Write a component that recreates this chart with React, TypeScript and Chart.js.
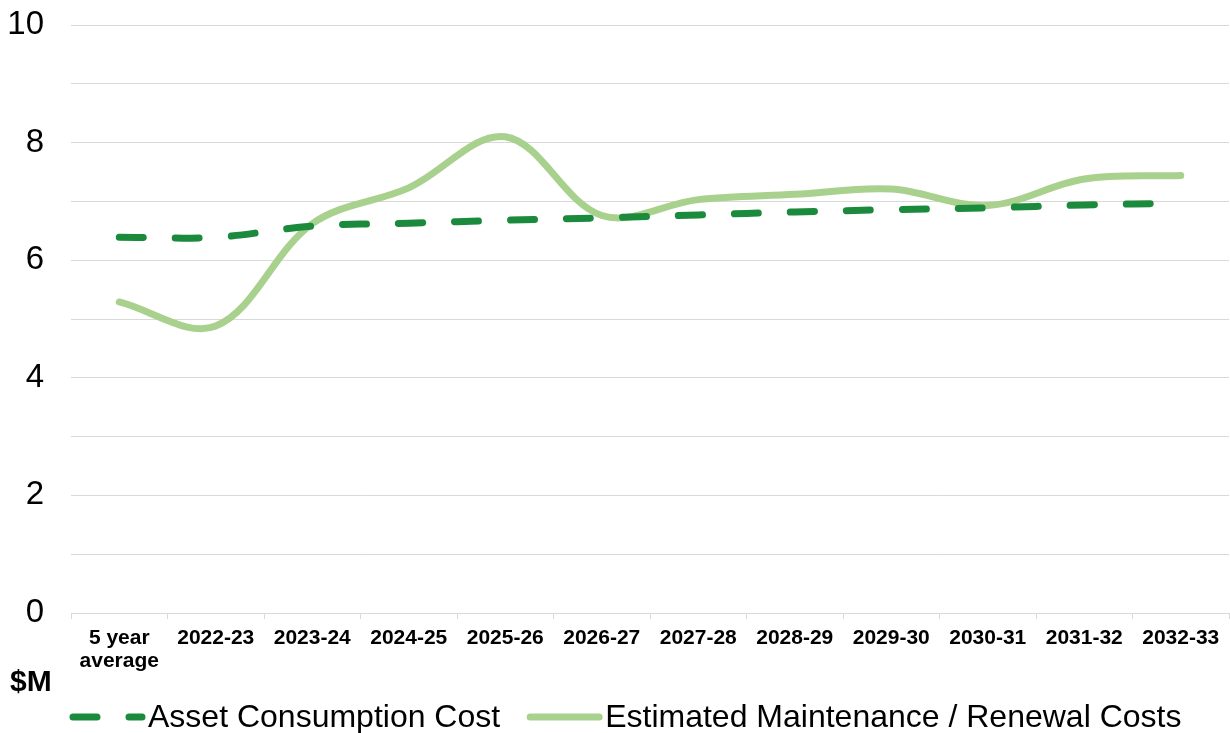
import React, { useEffect, useRef } from 'react';
import { Chart, registerables } from 'chart.js';

Chart.register(...registerables);

const categories: (string | string[])[] = [
  ['5 year', 'average'],
  '2022-23',
  '2023-24',
  '2024-25',
  '2025-26',
  '2026-27',
  '2027-28',
  '2028-29',
  '2029-30',
  '2030-31',
  '2031-32',
  '2032-33',
];

const assetConsumptionCost = [6.39, 6.39, 6.58, 6.63, 6.68, 6.72, 6.77, 6.82, 6.86, 6.89, 6.94, 6.97];
const maintenanceRenewalCosts = [5.29, 4.88, 6.62, 7.23, 8.1, 6.76, 7.03, 7.12, 7.21, 6.93, 7.38, 7.44];

const seriesNames = ['Asset Consumption Cost', 'Estimated Maintenance / Renewal Costs'];
const yAxisUnit = '$M';
const yMin = 0;
const yMax = 10;
const yLabelStep = 2;

const FONT = '"Liberation Sans", Arial, Helvetica, sans-serif';

const overlayPlugin = {
  id: 'overlay',
  afterDraw(chart: any) {
    const ctx = chart.ctx as CanvasRenderingContext2D;
    ctx.save();
    ctx.fillStyle = '#000';
    ctx.textAlign = 'left';
    ctx.textBaseline = 'middle';
    ctx.font = `bold 30px ${FONT}`;
    ctx.fillText(yAxisUnit, 10, 683);

    ctx.font = `32px ${FONT}`;
    let x = 73;
    const y = 717;
    chart.data.datasets.forEach((ds: any) => {
      ctx.beginPath();
      ctx.strokeStyle = ds.borderColor;
      ctx.lineWidth = ds.borderWidth;
      ctx.lineCap = 'round';
      ctx.setLineDash(ds.borderDash || []);
      ctx.moveTo(x, y);
      ctx.lineTo(x + 69, y);
      ctx.stroke();
      ctx.setLineDash([]);
      ctx.fillStyle = '#000';
      ctx.fillText(ds.label, x + 75, y + 1);
      x += 75 + ctx.measureText(ds.label).width + 30;
    });
    ctx.restore();
  },
};

export default function App() {
  const canvasRef = useRef<HTMLCanvasElement | null>(null);

  useEffect(() => {
    document.body.style.margin = '0';
    const canvas = canvasRef.current;
    if (!canvas) return;
    const chart = new Chart(canvas, {
      type: 'line',
      data: {
        labels: categories,
        datasets: [
          {
            label: seriesNames[0],
            data: assetConsumptionCost,
            borderColor: '#1B8A3C',
            backgroundColor: '#1B8A3C',
            borderWidth: 7,
            borderDash: [24, 32],
            borderCapStyle: 'round',
            tension: 0.35,
            pointRadius: 0,
            pointHoverRadius: 0,
            fill: false,
          },
          {
            label: seriesNames[1],
            data: maintenanceRenewalCosts,
            borderColor: '#A9D18E',
            backgroundColor: '#A9D18E',
            borderWidth: 7,
            borderCapStyle: 'round',
            borderJoinStyle: 'round',
            tension: 0.35,
            pointRadius: 0,
            pointHoverRadius: 0,
            fill: false,
          },
        ],
      },
      options: {
        animation: false,
        responsive: false,
        maintainAspectRatio: false,
        layout: { padding: { top: 25, left: 0, right: 1, bottom: 40 } },
        plugins: {
          legend: { display: false },
          tooltip: { enabled: false },
          title: { display: false },
        },
        scales: {
          x: {
            type: 'category',
            offset: true,
            grid: {
              offset: true,
              drawOnChartArea: false,
              drawTicks: true,
              tickLength: 6,
              color: '#D9D9D9',
              lineWidth: 1,
            },
            border: { display: true, color: '#D9D9D9', width: 1 },
            ticks: {
              color: '#000',
              font: { family: FONT, size: 21, weight: 'bold', lineHeight: 1.1 },
              padding: 8,
              maxRotation: 0,
              autoSkip: false,
            },
            afterFit(scale: any) {
              scale.height = 80;
              scale.paddingLeft = 0;
              scale.paddingRight = 0;
            },
          },
          y: {
            min: yMin,
            max: yMax,
            grid: {
              drawTicks: false,
              color: '#D9D9D9',
              lineWidth: 1,
            },
            border: { display: false },
            ticks: {
              stepSize: 1,
              color: '#000',
              font: { family: FONT, size: 33, lineHeight: 1.2 },
              padding: 27,
              callback: (v: any) => (Number(v) % yLabelStep === 0 ? String(v) : ''),
            },
            afterFit(scale: any) {
              scale.width = 71;
              scale.paddingTop = 0;
              scale.paddingBottom = 0;
            },
          },
        },
      },
      plugins: [overlayPlugin],
    });
    return () => chart.destroy();
  }, []);

  return (
    <div style={{ position: 'absolute', left: 0, top: 0, width: 1230, height: 733 }}>
      <canvas ref={canvasRef} width={1230} height={733} style={{ width: 1230, height: 733, display: 'block' }} />
    </div>
  );
}
